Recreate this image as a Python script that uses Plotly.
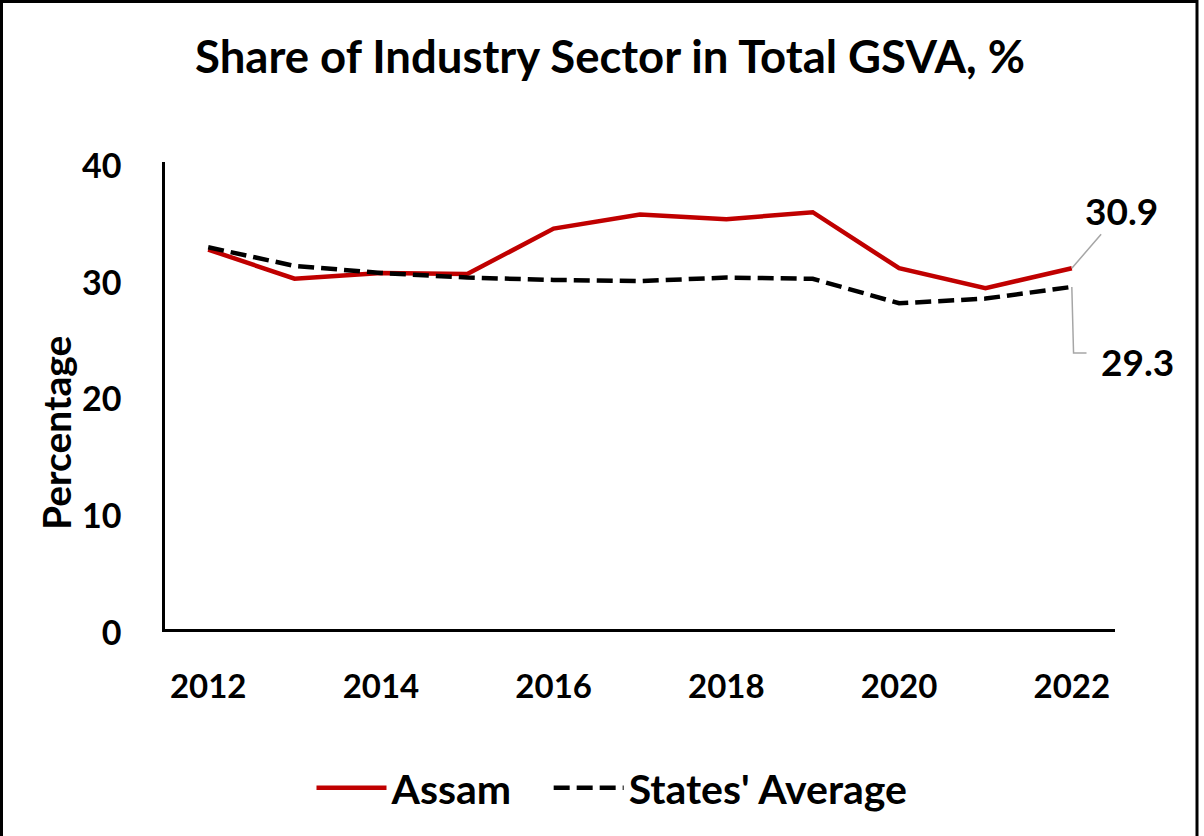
import plotly.graph_objects as go

years = [2012, 2013, 2014, 2015, 2016, 2017, 2018, 2019, 2020, 2021, 2022]
assam = [32.5, 30.0, 30.5, 30.4, 34.3, 35.5, 35.1, 35.7, 30.9, 29.2, 30.9]
states_avg = [32.7, 31.1, 30.5, 30.1, 29.9, 29.8, 30.1, 30.0, 27.9, 28.3, 29.3]
x_ticks = [2012, 2014, 2016, 2018, 2020, 2022]
y_ticks = [0, 10, 20, 30, 40]

FONT = "Lato"
W, H = 1204, 836
L, R, T, B = 165, 89, 162, 207
pw, ph = W - L - R, H - T - B

def px_x(p):
    return (p - L) / pw

def px_y(p):
    return (H - B - p) / ph

fig = go.Figure()
fig.add_trace(go.Scatter(x=years, y=assam, mode="lines",
                         name="<b>Assam</b>&nbsp;&nbsp;&nbsp;",
                         line=dict(color="#C00000", width=4.5)))
fig.add_trace(go.Scatter(x=years, y=states_avg, mode="lines",
                         name="<b>States' Average</b>",
                         line=dict(color="#000000", width=4.5, dash="16px,7px")))

fig.update_layout(
    width=W, height=H,
    margin=dict(l=L, r=R, t=T, b=B),
    paper_bgcolor="white", plot_bgcolor="white",
    font=dict(family=FONT, color="black"),
    title=dict(text="<b>Share of Industry Sector in Total GSVA, %</b>",
               x=610 / W, xanchor="center", y=1 - 57 / H, yanchor="middle",
               font=dict(family=FONT, size=45.5, color="black")),
    showlegend=True,
    legend=dict(orientation="h", x=px_x(612), xanchor="center", y=px_y(788), yanchor="middle",
                font=dict(family=FONT, size=41, color="black"),
                itemwidth=70, tracegroupgap=0),
    xaxis=dict(range=[2011.5, 2022.5], tickmode="array", tickvals=x_ticks,
               ticktext=[f"<b>{v}</b>" for v in x_ticks],
               showline=True, linecolor="black", linewidth=2.5, showgrid=False,
               zeroline=False, ticks="", ticklabelstandoff=27,
               tickfont=dict(family=FONT, size=33, color="black")),
    yaxis=dict(range=[0, 40], tickmode="array", tickvals=y_ticks,
               ticktext=[f"<b>{v}</b>" for v in y_ticks],
               showline=True, linecolor="black", linewidth=2.5, showgrid=False,
               zeroline=False, ticks="", ticklabelstandoff=34, ticklabelshift=4,
               tickfont=dict(family=FONT, size=34, color="black")),
)

# y-axis title
fig.add_annotation(text="<b>Percentage</b>", xref="paper", yref="paper",
                   x=px_x(56), y=px_y(433), xanchor="center", yanchor="middle",
                   textangle=-90, showarrow=False,
                   font=dict(family=FONT, size=39, color="black"))

# data labels
fig.add_annotation(text=f"<b>{assam[-1]}</b>", x=years[-1], y=assam[-1],
                   xref="x", yref="y", showarrow=True, arrowhead=0, arrowwidth=1.5,
                   arrowcolor="#A6A6A6", ax=50, ay=-58, standoff=0,
                   font=dict(family=FONT, size=37, color="black"))
fig.add_annotation(text=f"<b>{states_avg[-1]}</b>", x=years[-1], y=states_avg[-1],
                   xref="x", yref="y", showarrow=False, xshift=66, yshift=-75,
                   font=dict(family=FONT, size=37, color="black"))
elbow_y = states_avg[-1] - 66 / (ph / 40)
fig.add_shape(type="path", xref="x", yref="y",
              path=f"M {years[-1]},{states_avg[-1]} L {years[-1] + 0.02},{elbow_y} L {years[-1] + 0.17},{elbow_y}",
              line=dict(color="#A6A6A6", width=1.5))

# outer border
fig.add_shape(type="rect", xref="paper", yref="paper",
              x0=px_x(1.5), x1=px_x(1197), y0=px_y(860), y1=px_y(1.5),
              line=dict(color="black", width=3), layer="above")

fig.write_html("out.html", config={"displayModeBar": False},
               post_script="document.body.style.margin='0px';")
